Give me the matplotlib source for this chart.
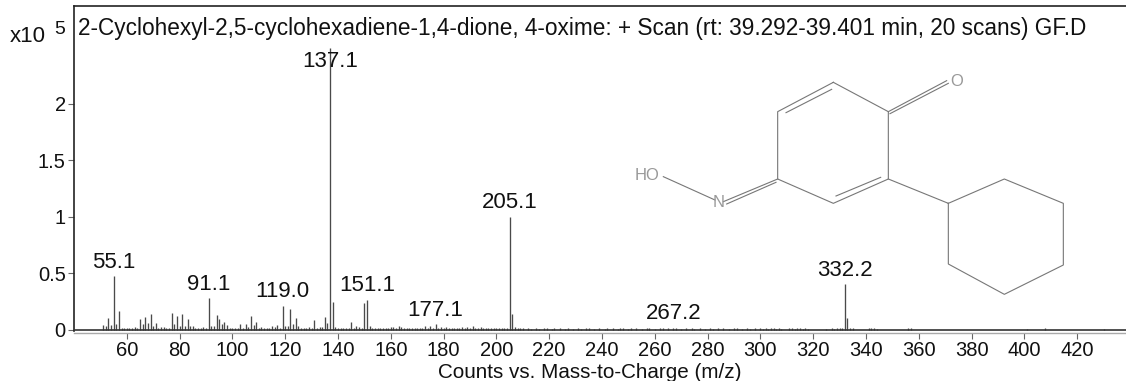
# Mass spectrum of 2-cyclohexyl-2,5-cyclohexadiene-1,4-dione, 4-oxime with structure inset
import matplotlib
matplotlib.use('Agg')
import matplotlib.pyplot as plt

plt.rcParams['font.family'] = ['Liberation Sans', 'DejaVu Sans']

# Peaks from 51 to 154, one intensity per integer m/z (x10^5 counts)
low_mz_start = 51
low_intensity = [0.04, 0.03, 0.10, 0.04, 0.47, 0.05, 0.16, 0.015, 0.012, 0.012,
                 0.01, 0.01, 0.02, 0.012, 0.09, 0.05, 0.11, 0.06, 0.14, 0.03,
                 0.055, 0.012, 0.02, 0.02, 0.012, 0.012, 0.15, 0.05, 0.12, 0.035,
                 0.14, 0.035, 0.095, 0.03, 0.03, 0.01, 0.01, 0.012, 0.02, 0.015,
                 0.275, 0.03, 0.035, 0.13, 0.09, 0.05, 0.065, 0.04, 0.015, 0.012,
                 0.01, 0.01, 0.05, 0.015, 0.05, 0.025, 0.12, 0.04, 0.065, 0.012,
                 0.02, 0.015, 0.01, 0.01, 0.035, 0.02, 0.04, 0.015, 0.21, 0.03,
                 0.03, 0.18, 0.05, 0.105, 0.035, 0.012, 0.015, 0.015, 0.02, 0.01,
                 0.085, 0.012, 0.02, 0.02, 0.115, 0.055, 2.49, 0.24, 0.02, 0.012,
                 0.015, 0.01, 0.015, 0.015, 0.065, 0.012, 0.03, 0.02, 0.015, 0.235,
                 0.26, 0.035, 0.016, 0.014]

# Peaks from 155 to 210
mid_mz_start = 155
mid_intensity = [0.014, 0.012, 0.012, 0.014, 0.016, 0.018, 0.024, 0.016, 0.035, 0.018,
                 0.014, 0.012, 0.012, 0.012, 0.012, 0.012, 0.012, 0.014, 0.028, 0.016,
                 0.028, 0.016, 0.045, 0.014, 0.024, 0.012, 0.024, 0.012, 0.012, 0.012,
                 0.012, 0.014, 0.024, 0.014, 0.018, 0.016, 0.03, 0.014, 0.012, 0.018,
                 0.012, 0.012, 0.012, 0.012, 0.014, 0.012, 0.012, 0.012, 0.012, 0.012,
                 1.0, 0.135, 0.024, 0.012, 0.012, 0.014]

# Sparse noise above 210
high_mz = [212, 213, 215, 216, 218, 219, 221, 222, 224, 226, 227, 229, 231, 232, 234,
           235, 237, 239, 241, 242, 244, 246, 247, 248, 250, 251, 253, 255, 257, 258,
           260, 262, 263, 265, 267, 268, 270, 272, 274, 275, 277, 279, 281, 282, 284,
           286, 288, 290, 291, 293, 295, 296, 298, 300, 301, 302, 303, 304, 305, 306,
           307, 308, 311, 312, 313, 314, 315, 316, 317, 318, 325, 327, 328, 329, 330,
           331, 332, 333, 334, 335, 341, 342, 343, 344, 356, 357, 401, 408, 430]
high_intensity = [0.010, 0.009, 0.011, 0.009, 0.010, 0.011, 0.009, 0.010, 0.011, 0.009,
                  0.010, 0.009, 0.011, 0.009, 0.010, 0.011, 0.009, 0.010, 0.009, 0.011,
                  0.010, 0.009, 0.012, 0.010, 0.009, 0.011, 0.010, 0.009, 0.011, 0.010,
                  0.009, 0.011, 0.010, 0.012, 0.016, 0.010, 0.009, 0.011, 0.010, 0.009,
                  0.011, 0.009, 0.010, 0.009, 0.011, 0.010, 0.009, 0.011, 0.010, 0.009,
                  0.011, 0.009, 0.010, 0.011, 0.009, 0.010, 0.009, 0.011, 0.010, 0.009,
                  0.010, 0.009, 0.010, 0.011, 0.009, 0.010, 0.011, 0.009, 0.010, 0.009,
                  0.009, 0.010, 0.009, 0.014, 0.016, 0.016, 0.40, 0.10, 0.016, 0.014,
                  0.011, 0.010, 0.011, 0.009, 0.011, 0.010, 0.009, 0.010, 0.009]

label_mz = [55, 91, 119, 137, 151, 177, 205, 267, 332]
label_text = ['55.1', '91.1', '119.0', '137.1', '151.1', '177.1', '205.1', '267.2', '332.2']

x_ticks = list(range(60, 421, 20))
y_ticks = [0, 0.5, 1, 1.5, 2]
y_tick_labels = ['0', '0.5', '1', '1.5', '2']

title = '2-Cyclohexyl-2,5-cyclohexadiene-1,4-dione, 4-oxime: + Scan (rt: 39.292-39.401 min, 20 scans) GF.D'
x_label = 'Counts vs. Mass-to-Charge (m/z)'

# Structure drawing, bonds as point chains in the inset's own units
ring_bonds = [[(640, 67), (805, 155), (805, 357), (640, 430), (473, 357), (473, 155), (640, 67)]]
inner_bonds = [[(635, 88), (498, 158)], [(782, 352), (648, 408)]]
carbonyl_bonds = [[(805, 155), (980, 62)], [(810, 161), (985, 70)]]
oxime_bonds = [[(473, 357), (310, 425)], [(468, 367), (320, 432)], [(130, 350), (285, 420)]]
cyclohexyl_bonds = [[(805, 357), (985, 430), (1153, 357), (1330, 430), (1330, 615),
                     (1153, 703), (985, 612), (985, 430)]]
atom_labels = [('HO', 82, 347), ('N', 296, 427), ('O', 1011, 63)]

W, H = 1126, 381
fig = plt.figure(figsize=(W / 100, H / 100), dpi=100)
ax = fig.add_axes([74 / W, 1 - 331 / H, (W - 74) / W, 325 / H])

mz = list(range(low_mz_start, low_mz_start + len(low_intensity)))
mz += list(range(mid_mz_start, mid_mz_start + len(mid_intensity)))
mz += high_mz
intensity = low_intensity + mid_intensity + high_intensity
ax.vlines(mz, 0, intensity, color='#4a4a4a', linewidth=0.95)

ax.axhline(0, color='#333333', linewidth=1.2, zorder=3)
ax.set_xlim(40, 438.5)
ax.set_ylim(-0.013, 2.863)

peak_height = dict(zip(mz, intensity))
for m, text in zip(label_mz, label_text):
    # the base peak label sits inside the peak, the others 15 px above it
    offset = -9.8 if m == 137 else 10.2
    ax.annotate(text, xy=(m, peak_height[m]), xytext=(0, offset), textcoords='offset points',
                ha='center', va='center', fontsize=16, color='#111111')

ax.spines['right'].set_visible(False)
ax.spines['top'].set_color('#222222')
ax.spines['left'].set_color('#222222')
ax.spines['top'].set_linewidth(1.2)
ax.spines['left'].set_linewidth(1.2)
ax.spines['bottom'].set_position(('outward', 1.5))
ax.spines['bottom'].set_color('#aaaaaa')
ax.spines['bottom'].set_linewidth(1.0)

ax.set_xticks(x_ticks)
ax.set_yticks(y_ticks)
ax.set_yticklabels(y_tick_labels)
ax.tick_params(axis='x', length=4, width=0.8, color='#666666', labelsize=14.5, pad=1.5, labelcolor='#111111')
ax.tick_params(axis='y', length=4, width=0.8, color='#666666', labelsize=14.5, pad=2, labelcolor='#111111')

fig.text(438 / W, 1 - 372 / H, x_label, fontsize=14.9, va='center', ha='left', color='#111111')
fig.text(78 / W, 1 - 29 / H, title, fontsize=16.25, va='center', ha='left', color='#111111')
fig.text(10 / W, 1 - 36 / H, 'x10', fontsize=16, va='center', ha='left', color='#111111')
fig.text(54 / W, 1 - 30 / H, '5', fontsize=14, va='center', ha='left', color='#111111')

# Structure inset, 3 units to a pixel
inset = fig.add_axes([620 / W, 1 - 310 / H, 460 / W, 250 / H])
inset.set_xlim(0, 1380)
inset.set_ylim(750, 0)
inset.axis('off')
for group in [ring_bonds, inner_bonds, carbonyl_bonds, oxime_bonds, cyclohexyl_bonds]:
    for chain in group:
        xs = [p[0] for p in chain]
        ys = [p[1] for p in chain]
        inset.plot(xs, ys, color='#777777', linewidth=0.8)
for text, x, y in atom_labels:
    inset.text(x, y, text, fontsize=12, color='#999999', ha='center', va='center')

fig.savefig('out.png', dpi=100)
